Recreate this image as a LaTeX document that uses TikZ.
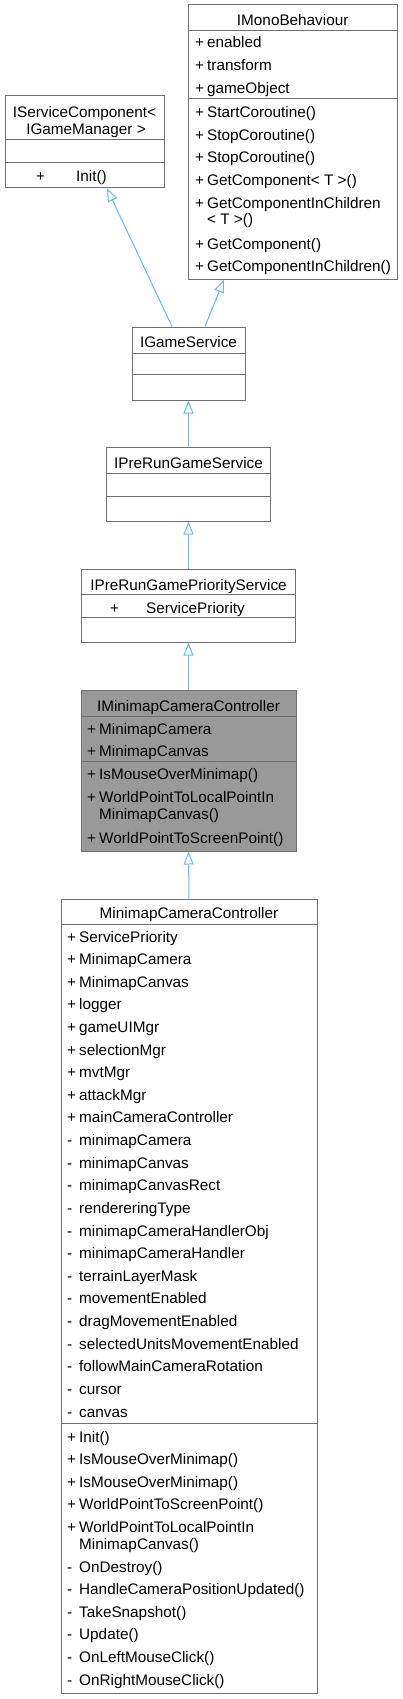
\documentclass[tikz,border=0pt]{standalone}
\usepackage{fontspec}
\setmainfont{Liberation Sans}
\usetikzlibrary{arrows.meta}
\definecolor{edgeblue}{RGB}{99,184,255}
\definecolor{boxline}{RGB}{112,112,112}
\definecolor{hlfill}{RGB}{153,153,153}
\tikzset{
  umlbox/.style={draw=boxline, line width=1pt, fill=white, inner sep=0pt},
  sepline/.style={draw=boxline, line width=1pt},
  txt/.style={inner sep=0pt, font=\fontsize{15.3}{17}\selectfont, anchor=base west},
  ttl/.style={inner sep=0pt, font=\fontsize{15.3}{17}\selectfont, anchor=base},
  inh/.style={draw=edgeblue, line width=1pt, -{Triangle[open, length=13pt, width=10pt, line width=1pt]}}
}
\newcommand\mb[2]{\makebox[12pt][l]{#1}#2}
\begin{document}
\begin{tikzpicture}[x=1pt,y=-1pt]
\useasboundingbox (0,0) rectangle (402,1699);

% ---------- IMonoBehaviour
\node[umlbox, minimum width=208.7pt, minimum height=274pt] (imb) at (292.7,142) {};
\draw[sepline] (188.35,31) -- (397.05,31);
\draw[sepline] (188.35,98.5) -- (397.05,98.5);
\node[ttl] (imbt) at (292.7,26) {IMonoBehaviour};
\node[txt] (imb1) at (195,48) {\mb{+}{enabled}};
\node[txt] (imb2) at (195,70.6) {\mb{+}{transform}};
\node[txt] (imb3) at (195,93.2) {\mb{+}{gameObject}};
\node[txt] (imb4) at (195,117.8) {\mb{+}{StartCoroutine()}};
\node[txt] (imb5) at (195,140.4) {\mb{+}{StopCoroutine()}};
\node[txt] (imb6) at (195,163) {\mb{+}{StopCoroutine()}};
\node[txt] (imb7) at (195,185.6) {\mb{+}{GetComponent< T >()}};
\node[txt] (imb8) at (195,208.2) {\mb{+}{GetComponentInChildren}};
\node[txt] (imb9) at (207,224.5) {< T >()};
\node[txt] (imb10) at (195,249) {\mb{+}{GetComponent()}};
\node[txt] (imb11) at (195,271.6) {\mb{+}{GetComponentInChildren()}};

% ---------- IServiceComponent
\node[umlbox, minimum width=159pt, minimum height=92pt] (isc) at (84.5,142) {};
\draw[sepline] (5,140) -- (164,140);
\draw[sepline] (5,163) -- (164,163);
\node[ttl] (isct1) at (84.5,118) {IServiceComponent<};
\node[ttl] (isct2) at (86,135) {IGameManager >};
\node[txt] (isc1) at (36,182) {+};
\node[txt] (isc2) at (76,182) {Init()};

% ---------- IGameService
\node[umlbox, minimum width=113pt, minimum height=73pt] (gs) at (188.5,363.5) {};
\draw[sepline] (132,353) -- (245,353);
\draw[sepline] (132,374) -- (245,374);
\node[ttl] (gst) at (188.5,347.5) {IGameService};

% ---------- IPreRunGameService
\node[umlbox, minimum width=164pt, minimum height=74pt] (pre) at (188.5,484) {};
\draw[sepline] (106.5,473) -- (270.5,473);
\draw[sepline] (106.5,496) -- (270.5,496);
\node[ttl] (pret) at (188.5,468.5) {IPreRunGameService};

% ---------- IPreRunGamePriorityService
\node[umlbox, minimum width=213.6pt, minimum height=73pt] (prio) at (188.5,605.5) {};
\draw[sepline] (81.7,594) -- (295.3,594);
\draw[sepline] (81.7,617) -- (295.3,617);
\node[ttl] (priot) at (188.5,590) {IPreRunGamePriorityService};
\node[txt] (prio1) at (110,613) {+};
\node[txt] (prio2) at (146,613) {ServicePriority};

% ---------- IMinimapCameraController
\node[umlbox, fill=hlfill, minimum width=215pt, minimum height=161pt] (imcc) at (188.5,770.5) {};
\draw[sepline] (81,716) -- (296,716);
\draw[sepline] (81,761) -- (296,761);
\node[ttl] (imcct) at (188.5,711) {IMinimapCameraController};
\node[txt] (imcc1) at (87,734) {\mb{+}{MinimapCamera}};
\node[txt] (imcc2) at (87,756.6) {\mb{+}{MinimapCanvas}};
\node[txt] (imcc3) at (87,779.5) {\mb{+}{IsMouseOverMinimap()}};
\node[txt] (imcc4) at (87,802) {\mb{+}{WorldPointToLocalPointIn}};
\node[txt] (imcc5) at (99,819) {MinimapCanvas()};
\node[txt] (imcc6) at (87,843.5) {\mb{+}{WorldPointToScreenPoint()}};

% ---------- MinimapCameraController
\node[umlbox, minimum width=256pt, minimum height=794pt] (mcc) at (189,1296) {};
\draw[sepline] (61,924) -- (317,924);
\draw[sepline] (61,1423) -- (317,1423);
\node[ttl] (mcct) at (189,918) {MinimapCameraController};
\foreach \s/\t [count=\i from 0] in {
  +/ServicePriority, +/MinimapCamera, +/MinimapCanvas, +/logger, +/gameUIMgr,
  +/selectionMgr, +/mvtMgr, +/attackMgr, +/mainCameraController,
  -/minimapCamera, -/minimapCanvas, -/minimapCanvasRect, -/rendereringType,
  -/minimapCameraHandlerObj, -/minimapCameraHandler, -/terrainLayerMask,
  -/movementEnabled, -/dragMovementEnabled, -/selectedUnitsMovementEnabled,
  -/followMainCameraRotation, -/cursor, -/canvas}
  \node[txt] (mcca\i) at (67,942+22.62*\i) {\mb{\s}{\t}};
\node[txt] (mccm1) at (67,1442) {\mb{+}{Init()}};
\node[txt] (mccm2) at (67,1464.6) {\mb{+}{IsMouseOverMinimap()}};
\node[txt] (mccm3) at (67,1487.2) {\mb{+}{IsMouseOverMinimap()}};
\node[txt] (mccm4) at (67,1509.8) {\mb{+}{WorldPointToScreenPoint()}};
\node[txt] (mccm5) at (67,1532.4) {\mb{+}{WorldPointToLocalPointIn}};
\node[txt] (mccm6) at (79,1549) {MinimapCanvas()};
\node[txt] (mccm7) at (67,1572) {\mb{-}{OnDestroy()}};
\node[txt] (mccm8) at (67,1594.6) {\mb{-}{HandleCameraPositionUpdated()}};
\node[txt] (mccm9) at (67,1617.2) {\mb{-}{TakeSnapshot()}};
\node[txt] (mccm10) at (67,1639.8) {\mb{-}{Update()}};
\node[txt] (mccm11) at (67,1662.4) {\mb{-}{OnLeftMouseClick()}};
\node[txt] (mccm12) at (67,1685) {\mb{-}{OnRightMouseClick()}};

% ---------- inheritance arrows
\draw[inh] ([xshift=-16.5pt]gs.north) -- ([xshift=22.5pt]isc.south);
\draw[inh] ([xshift=16.5pt]gs.north) -- ([xshift=-68.7pt]imb.south);
\draw[inh] (pre.north) -- (gs.south);
\draw[inh] (prio.north) -- (pre.south);
\draw[inh] (imcc.north) -- (prio.south);
\draw[inh] (mcc.north) -- (imcc.south);
\end{tikzpicture}
\end{document}
